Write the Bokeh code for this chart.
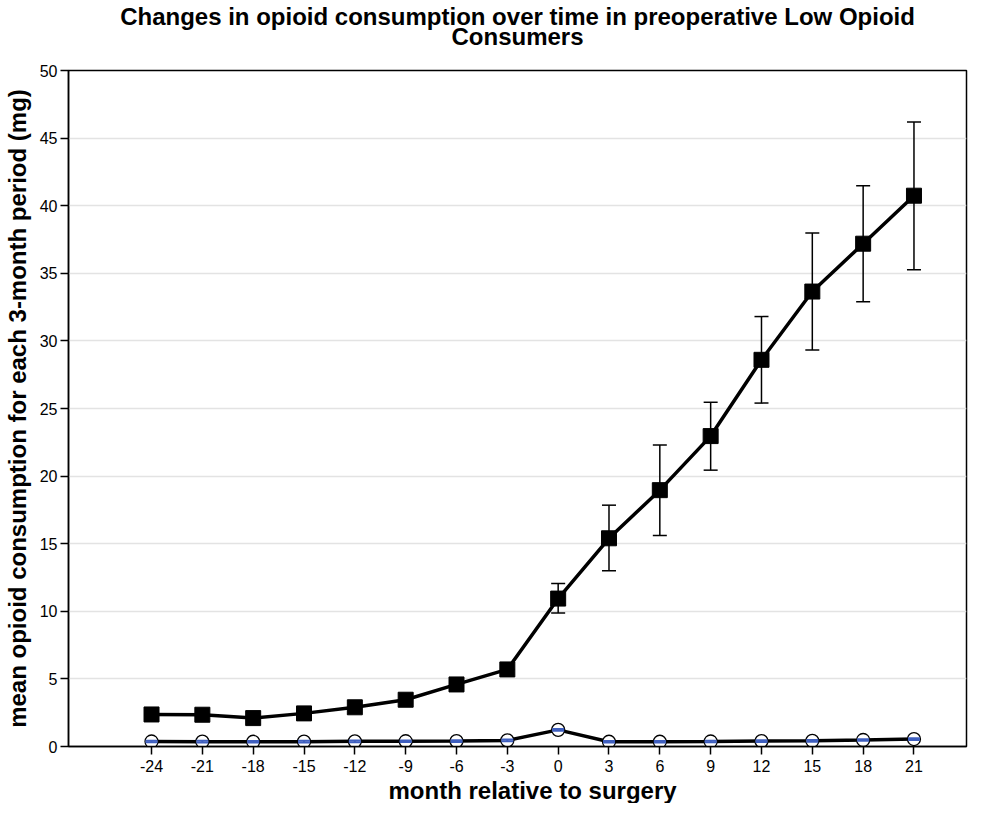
from bokeh.plotting import figure
from bokeh.models import ColumnDataSource, Whisker, TeeHead, Title, Range1d, FixedTicker, LinearAxis
from bokeh.embed import file_html
from bokeh.resources import INLINE

months = [-24, -21, -18, -15, -12, -9, -6, -3, 0, 3, 6, 9, 12, 15, 18, 21]
high_mean = [2.37, 2.35, 2.1, 2.45, 2.9, 3.46, 4.59, 5.7, 10.94, 15.4, 18.96, 22.96, 28.6, 33.65, 37.19, 40.74]
high_lower = [2.37, 2.35, 2.1, 2.45, 2.9, 3.46, 4.59, 5.7, 9.87, 13.0, 15.6, 20.44, 25.4, 29.33, 32.9, 35.26]
high_upper = [2.37, 2.35, 2.1, 2.45, 2.9, 3.46, 4.59, 5.7, 12.05, 17.85, 22.3, 25.46, 31.8, 37.98, 41.48, 46.2]
low_mean = [0.37, 0.36, 0.35, 0.36, 0.38, 0.39, 0.4, 0.45, 1.23, 0.35, 0.35, 0.37, 0.4, 0.42, 0.48, 0.55]
low_lower = [v - 0.06 for v in low_mean]
low_upper = [v + 0.06 for v in low_mean]
y_ticks = [0, 5, 10, 15, 20, 25, 30, 35, 40, 45, 50]
title_lines = ["Changes in opioid consumption over time in preoperative Low Opioid", "Consumers"]

FONT = "Liberation Sans"

p = figure(width=970, height=803, output_backend="svg", toolbar_location=None,
           x_range=Range1d(-28.9, 24.1), y_range=Range1d(0, 50),
           min_border_left=57, min_border_right=4, min_border_top=2, min_border_bottom=4)

xax = p.below[0]
yax = p.left[0]

# invisible spacer between frame top and the title (invisible ticks give it height)
spacer = LinearAxis(ticker=FixedTicker(ticks=months), axis_line_color=None, major_tick_line_color=None,
                    minor_tick_line_color=None, major_tick_out=30, major_tick_in=0, minor_tick_out=0,
                    major_label_standoff=0, major_label_text_color=None,
                    major_label_text_font_size="1px",
                    major_label_overrides={m: "" for m in months})
p.add_layout(spacer, "above")

# two-line title: inner line added first (closest to the frame)
p.add_layout(Title(text=title_lines[1], align="center", text_font=FONT, text_font_size="24px",
                   text_font_style="bold", text_color="black",
                   standoff=-19, offset=0), "above")
p.add_layout(Title(text=title_lines[0], align="center", text_font=FONT, text_font_size="24px",
                   text_font_style="bold", text_color="black",
                   standoff=1, offset=0), "above")

p.add_layout(Title(text="month relative to surgery", align="left", offset=320,
                   text_font=FONT, text_font_size="24px", text_font_style="bold",
                   text_color="black", standoff=0), "below")

src_h = ColumnDataSource(dict(x=months, y=high_mean, lo=high_lower, up=high_upper))
src_l = ColumnDataSource(dict(x=months, y=low_mean, lo=low_lower, up=low_upper))

p.line("x", "y", source=src_h, line_color="black", line_width=3.5)
p.line("x", "y", source=src_l, line_color="black", line_width=3.5)
p.scatter("x", "y", source=src_h, marker="square", size=15, fill_color="black", line_color="black")
p.scatter("x", "y", source=src_l, marker="circle", size=13, fill_color="white", line_color="black", line_width=1.3)

p.add_layout(Whisker(source=src_h, base="x", lower="lo", upper="up", line_color="black", line_width=1.5,
                     level="overlay",
                     upper_head=TeeHead(size=14, line_color="black", line_width=1.5),
                     lower_head=TeeHead(size=14, line_color="black", line_width=1.5)))
p.add_layout(Whisker(source=src_l, base="x", lower="lo", upper="up", line_color="#3f5fbf", line_width=2,
                     level="overlay",
                     upper_head=TeeHead(size=12, line_color="#3f5fbf", line_width=2),
                     lower_head=TeeHead(size=12, line_color="#3f5fbf", line_width=2)))

xax.ticker = FixedTicker(ticks=months)
yax.ticker = FixedTicker(ticks=y_ticks)
xax.major_label_overrides = {m: str(m) for m in months}
p.xgrid.grid_line_color = None
p.ygrid.grid_line_color = "#e3e3e3"
p.ygrid.grid_line_width = 1.5

for ax in (xax, yax):
    ax.major_tick_in = 0
    ax.major_tick_out = 8
    ax.minor_tick_out = 0
    ax.minor_tick_in = 0
    ax.major_tick_line_width = 1.5
    ax.axis_line_width = 1.5
    ax.major_tick_line_color = "black"
    ax.axis_line_color = "black"
    ax.major_label_text_font = FONT
    ax.major_label_text_font_size = "16px"
    ax.major_label_text_color = "black"
    ax.axis_label_text_font = FONT
    ax.axis_label_text_font_size = "24px"
    ax.axis_label_text_font_style = "bold"
    ax.axis_label_text_color = "black"

yax.axis_label = "mean opioid consumption for each 3-month period (mg)"
yax.axis_label_standoff = 6
xax.major_label_standoff = 5
yax.major_label_standoff = 3

p.outline_line_color = "black"
p.outline_line_width = 1.5
p.outline_line_alpha = 1

open("out.html", "w").write(file_html(p, INLINE))
